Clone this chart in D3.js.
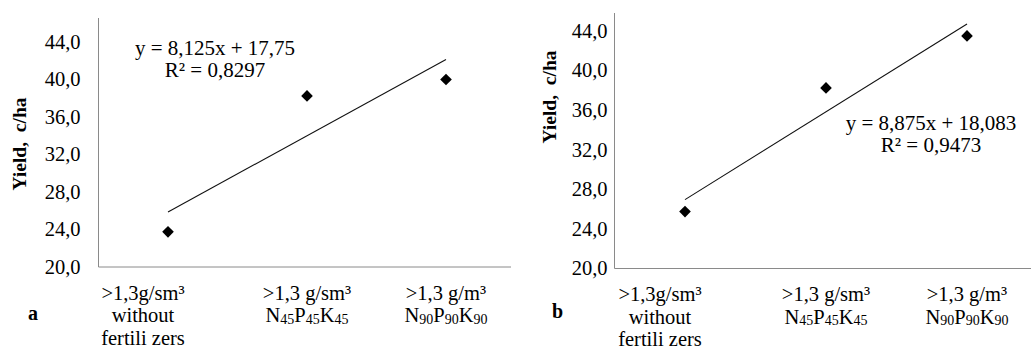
<!DOCTYPE html>
<html><head><meta charset="utf-8">
<script src="https://cdn.jsdelivr.net/npm/d3@7"></script>
<style>
html,body{margin:0;padding:0;background:#fff;}
svg{display:block;}
</style></head>
<body><svg id="c" width="1031" height="349"></svg>
<script>
// each category label: lines, each line is a list of [text, isSubscript]
const categories = [
  [[[">1,3g/sm³", 0]], [["without", 0]], [["fertili zers", 0]]],
  [[[">1,3 g/sm³", 0]], [["N", 0], ["45", 1], ["P", 0], ["45", 1], ["K", 0], ["45", 1]]],
  [[[">1,3 g/m³", 0]], [["N", 0], ["90", 1], ["P", 0], ["90", 1], ["K", 0], ["90", 1]]]
];
const yieldA = [23.75, 38.25, 40.0];
const yieldB = [25.75, 38.25, 43.5];
const trendA = {slope: 8.125, intercept: 17.75, eq: "y = 8,125x + 17,75", r2: "R² = 0,8297"};
const trendB = {slope: 8.875, intercept: 18.083, eq: "y = 8,875x + 18,083", r2: "R² = 0,9473"};
const yTicks = [20, 24, 28, 32, 36, 40, 44];
const yLabel = "Yield,  c/ha";

const svg = d3.select("#c");
const FF = '"Liberation Serif"';
function txt(sel, size, bold) {
  return sel.append("text").style("font-family", FF).style("font-size", size + "px")
    .style("font-weight", bold ? "bold" : "normal").attr("fill", "#000");
}

function panel(cfg) {
  const g = svg.append("g");
  const x = d3.scaleBand().domain([0,1,2]).range([cfg.x0, cfg.x0 + 3*cfg.band]);
  const y = d3.scaleLinear().domain([20, 44]).range([cfg.yBottom, cfg.y44]);
  const cx = i => x(i) + x.bandwidth()/2;
  g.append("line").attr("x1", cfg.x0).attr("x2", cfg.x0).attr("y1", cfg.yTop).attr("y2", cfg.yBottom)
    .attr("stroke", "#8a8a8a").attr("stroke-width", 1);
  g.append("line").attr("x1", cfg.x0).attr("x2", cfg.xEnd).attr("y1", cfg.yBottom).attr("y2", cfg.yBottom)
    .attr("stroke", "#8a8a8a").attr("stroke-width", 1);
  yTicks.forEach(d => {
    txt(g, 20.5).attr("x", cfg.x0 - cfg.tickOff).attr("y", y(d)).attr("dy", "0.33em")
      .attr("text-anchor", "end").text(d.toFixed(1).replace(".", ","));
  });
  txt(g, 19.5, true).attr("transform", `translate(${cfg.ylx},${cfg.yly}) rotate(-90)`)
    .attr("text-anchor", "middle").attr("dy", "0.33em").style("white-space", "pre")
    .text(yLabel);
  categories.forEach((lines, i) => {
    lines.forEach((parts, j) => {
      const t = txt(g, 20.5).attr("text-anchor", "middle")
        .attr("x", cx(i) + (i === 0 ? cfg.firstShift : 0))
        .attr("y", cfg.yBottom + 32.5 + j*22.5);
      parts.forEach(([s, sub], k) => {
        const sp = t.append("tspan").style("font-family", FF).text(s);
        if (sub) sp.style("font-size", "14px").attr("dy", 1.5);
        else { sp.style("font-size", "20.5px"); if (k > 0) sp.attr("dy", -1.5); }
      });
    });
  });
  txt(g, 20, true).attr("x", cfg.letterX).attr("y", cfg.letterY).text(cfg.letter);
  const t = cfg.trend;
  g.append("line")
    .attr("x1", cx(0)).attr("y1", y(t.slope*1 + t.intercept))
    .attr("x2", cx(2)).attr("y2", y(t.slope*3 + t.intercept))
    .attr("stroke", "#111").attr("stroke-width", 1.1);
  g.selectAll(".m").data(cfg.values).enter().append("path")
    .attr("d", d3.symbol().type(d3.symbolSquare).size(68))
    .attr("transform", (d, i) => `translate(${cx(i)},${y(d)}) rotate(45)`)
    .attr("fill", "#000");
  txt(g, 21).attr("text-anchor", "middle").attr("x", cfg.eqX).attr("y", cfg.eqY).text(t.eq);
  txt(g, 21).attr("text-anchor", "middle").attr("x", cfg.eqX).attr("y", cfg.eqY + 22).text(t.r2);
}

panel({x0: 98.5, band: 139, xEnd: 511, yTop: 18, yBottom: 267, y44: 42, tickOff: 18,
  ylx: 20, yly: 144, firstShift: -25, letter: "a", letterX: 28, letterY: 320,
  trend: trendA, values: yieldA, eqX: 215, eqY: 55});
panel({x0: 614.5, band: 141, xEnd: 1031, yTop: 13, yBottom: 268.5, y44: 31, tickOff: 7,
  ylx: 550, yly: 97, firstShift: -25, letter: "b", letterX: 552, letterY: 318,
  trend: trendB, values: yieldB, eqX: 931, eqY: 130});
</script></body></html>
